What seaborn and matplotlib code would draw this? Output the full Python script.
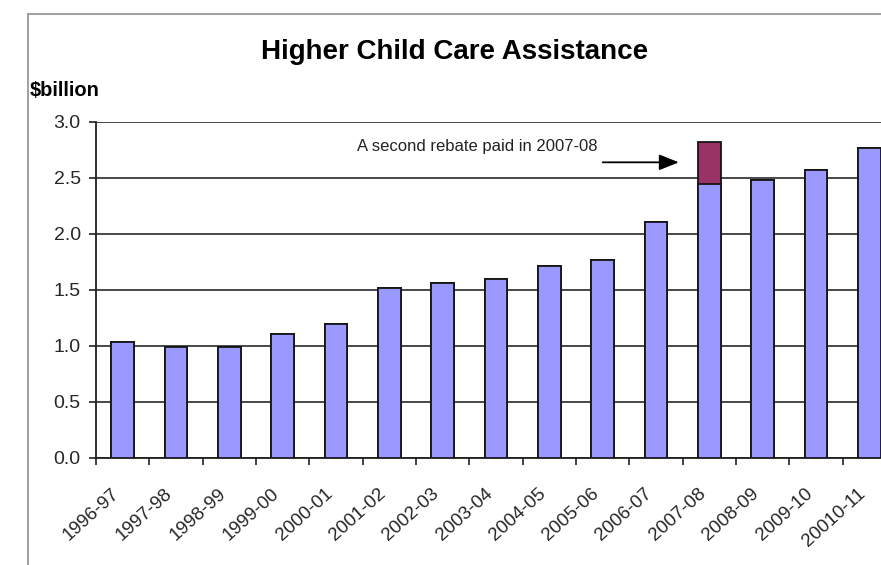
import matplotlib
matplotlib.use("Agg")
import matplotlib.pyplot as plt
import matplotlib.transforms as mtransforms
import seaborn as sns
import pandas as pd
import numpy as np
from matplotlib.lines import Line2D

years = ['1996-97', '1997-98', '1998-99', '1999-00', '2000-01', '2001-02',
         '2002-03', '2003-04', '2004-05', '2005-06', '2006-07', '2007-08',
         '2008-09', '2009-10', '20010-11']
base = [1.04, 0.99, 0.99, 1.11, 1.20, 1.52, 1.565, 1.60, 1.71, 1.765,
        2.11, 2.45, 2.48, 2.57, 2.77]
second_rebate = [0, 0, 0, 0, 0, 0, 0, 0, 0, 0, 0, 0.37, 0, 0, 0]
y_ticks = [0.0, 0.5, 1.0, 1.5, 2.0, 2.5, 3.0]

title = "Higher Child Care Assistance"
unit_label = "$billion"
note = "A second rebate paid in 2007-08"

df = pd.DataFrame({"year": years, "base": base,
                   "total": [b + s for b, s in zip(base, second_rebate)]})

sns.set_theme(style="white")
plt.rcParams['font.family'] = ['Liberation Sans', 'DejaVu Sans']

W, H = 881, 565
fig = plt.figure(figsize=(W / 100, H / 100), dpi=100)
fig.patch.set_facecolor('white')
ax = fig.add_axes([96 / W, 107 / H, 800 / W, 336 / H])

sns.barplot(data=df, x="year", y="total", color="#993366", saturation=1,
            width=0.43, edgecolor="#151515", linewidth=1.3, ax=ax, zorder=3)
sns.barplot(data=df, x="year", y="base", color="#9999FF", saturation=1,
            width=0.43, edgecolor="#151515", linewidth=1.3, ax=ax, zorder=3)

ax.set_xlim(-0.5, len(years) - 0.5)
ax.set_ylim(0, 3.0)
ax.set_yticks(y_ticks)
ax.set_yticklabels([f"{v:.1f}" for v in y_ticks], fontsize=14)
ax.yaxis.grid(True, color="#3a3a3a", linewidth=1.3, zorder=0)
ax.set_axisbelow(True)
ax.set_xlabel("")
ax.set_ylabel("")

ax.set_xticks(range(len(years)))
ax.set_xticklabels(years, rotation=42, ha='right', va='center',
                   rotation_mode='anchor', fontsize=13.5)
ax.set_xticks(np.arange(-0.5, len(years), 1.0), minor=True)
ax.tick_params(axis='x', which='major', length=0, pad=24)
ax.tick_params(axis='x', which='minor', length=5, width=1.2, color='#202020',
               direction='out', bottom=True)
ax.tick_params(axis='y', which='major', length=5, width=1.2, color='#202020',
               direction='out', left=True, pad=6)
offset = mtransforms.ScaledTranslation(-6 / 100, 0, fig.dpi_scale_trans)
for lab in ax.get_xticklabels():
    lab.set_transform(lab.get_transform() + offset)

for s in ['top', 'right']:
    ax.spines[s].set_visible(False)
for s in ['left', 'bottom']:
    ax.spines[s].set_color('#202020')
    ax.spines[s].set_linewidth(1.3)

ax.annotate("", xy=(10.48, 2.64), xytext=(8.95, 2.64),
            arrowprops=dict(arrowstyle="-|>,head_length=1.0,head_width=0.4",
                            color="black", lw=1.3))
ax.text(4.39, 2.78, note, fontsize=12, ha='left', va='center', color='#222222')

fig.text(455 / W, 1 - 52 / H, title, fontsize=20, fontweight='bold',
         ha='center', va='center', color='black')
fig.text(30 / W, 1 - 90 / H, unit_label, fontsize=14.5, fontweight='bold',
         ha='left', va='center', color='black')

fig.add_artist(Line2D([28 / W, 28 / W], [0, 1 - 14 / H], transform=fig.transFigure,
                      color='#909090', lw=1.2))
fig.add_artist(Line2D([28 / W, 1], [1 - 14 / H, 1 - 14 / H], transform=fig.transFigure,
                      color='#909090', lw=1.2))

fig.savefig("out.png", dpi=100)
